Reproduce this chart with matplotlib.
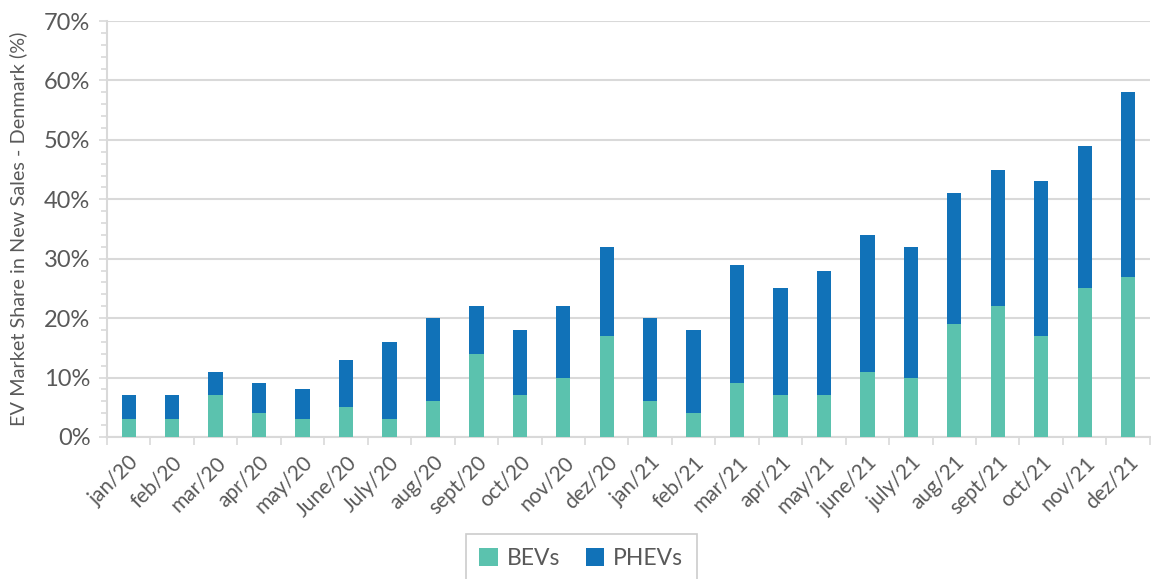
import matplotlib
matplotlib.use("Agg")
import matplotlib.pyplot as plt
import matplotlib.ticker as mticker
import numpy as np

months = ["jan/20", "feb/20", "mar/20", "apr/20", "may/20", "June/20", "July/20",
          "aug/20", "sept/20", "oct/20", "nov/20", "dez/20", "jan/21", "feb/21",
          "mar/21", "apr/21", "may/21", "june/21", "july/21", "aug/21", "sept/21",
          "oct/21", "nov/21", "dez/21"]
bevs = [3, 3, 7, 4, 3, 5, 3, 6, 14, 7, 10, 17, 6, 4, 9, 7, 7, 11, 10, 19, 22, 17, 25, 27]
phevs = [4, 4, 4, 5, 5, 8, 13, 14, 8, 11, 12, 15, 14, 14, 20, 18, 21, 23, 22, 22, 23, 26, 24, 31]

BEV_COLOR = "#5BC2AE"
PHEV_COLOR = "#1172B8"
TEXT = "#595959"
AXIS = "#D9D9D9"

plt.rcParams["font.family"] = ["Lato", "DejaVu Sans"]

fig = plt.figure(figsize=(11.51, 5.79), dpi=100)
ax = fig.add_axes([0.093, 0.2453, 0.906, 0.7184])

x = np.arange(len(months))
ax.bar(x, bevs, width=0.33, color=BEV_COLOR, label="BEVs", zorder=3)
ax.bar(x, phevs, width=0.33, bottom=bevs, color=PHEV_COLOR, label="PHEVs", zorder=3)

ax.set_xlim(-0.5, len(months) - 0.5)
ax.set_ylim(0, 70)
ax.yaxis.set_major_locator(mticker.MultipleLocator(10))
ax.yaxis.set_minor_locator(mticker.MultipleLocator(2))
ax.yaxis.set_major_formatter(mticker.FuncFormatter(lambda v, p: f"{v:.0f}%"))
ax.grid(axis="y", which="major", color=AXIS, linewidth=1.5, zorder=0)

# category labels at centers, tick marks between categories
ax.set_xticks(x)
ax.set_xticklabels(months, rotation=45, ha="right", rotation_mode="anchor")
ax.set_xticks(np.arange(-0.5, len(months), 1), minor=True)
ax.tick_params(axis="x", which="major", length=0, pad=11, labelsize=15, labelcolor=TEXT)
ax.tick_params(axis="x", which="minor", length=6, width=1.2, color=AXIS)
ax.tick_params(axis="y", which="major", length=6, width=1.2, color=AXIS, labelsize=17, labelcolor=TEXT, pad=6)
ax.tick_params(axis="y", which="minor", length=4, width=1.2, color=AXIS)

for side in ["top", "right"]:
    ax.spines[side].set_visible(False)
for side in ["left", "bottom"]:
    ax.spines[side].set_color(AXIS)
    ax.spines[side].set_linewidth(1.5)

ax.set_ylabel("EV Market Share in New Sales - Denmark (%)", fontsize=14.3, color=TEXT, labelpad=12)

leg = fig.legend(loc="upper center", bbox_to_anchor=(0.505, 0.077), ncol=2, fontsize=16.5,
                 frameon=True, fancybox=False, edgecolor="#BFBFBF", handlelength=0.8,
                 handleheight=0.8, handletextpad=0.4, columnspacing=1.1, borderpad=0.6,
                 borderaxespad=0.0, labelcolor=TEXT)
leg.get_frame().set_linewidth(1.2)

fig.savefig("out.png", dpi=100)
